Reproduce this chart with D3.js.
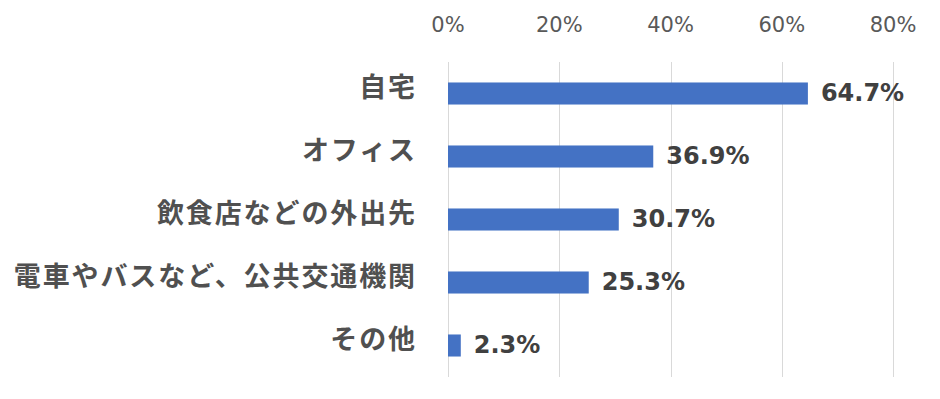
<!DOCTYPE html>
<meta charset="utf-8">
<style>
    body { margin: 0; background: #fff; }
    .grid line { stroke: #d9d9d9; stroke-width: 1px; }
    .ticks text { font-family: "DejaVu Sans", sans-serif; font-size: 21px; fill: #595959; }
    .cats text { font-family: "Noto Sans CJK JP", sans-serif; font-weight: bold; font-size: 27px; fill: #505050; }
    .vals text { font-family: "DejaVu Sans", sans-serif; font-weight: bold; font-size: 24px; fill: #404040; }
</style>
<svg id="mainSVG" width="940" height="399"></svg>
<script src="https://d3js.org/d3.v7.min.js"></script>
<script>
    var categories = ["自宅", "オフィス", "飲食店などの外出先", "電車やバスなど、公共交通機関", "その他"];
    var values = [64.7, 36.9, 30.7, 25.3, 2.3];
    var tickValues = [0, 20, 40, 60, 80];

    var svg = d3.select("svg");

    var x = d3.scaleLinear().domain([0, 80]).range([448, 893]);
    var y = d3.scaleBand()
        .domain(categories)
        .range([62, 377])
        .paddingInner(0.65)
        .paddingOuter(0.325);

    // vertical gridlines
    svg.append("g")
        .attr("class", "grid")
        .selectAll("line")
        .data(tickValues)
        .enter().append("line")
        .attr("x1", function (d) { return Math.round(x(d)) + 0.5; })
        .attr("x2", function (d) { return Math.round(x(d)) + 0.5; })
        .attr("y1", 62)
        .attr("y2", 377);

    // tick labels on top
    svg.append("g")
        .attr("class", "ticks")
        .selectAll("text")
        .data(tickValues)
        .enter().append("text")
        .attr("x", function (d) { return x(d); })
        .attr("y", 32)
        .attr("text-anchor", "middle")
        .text(function (d) { return d + "%"; });

    svg.append("g")
        .selectAll("rect")
        .data(values)
        .enter().append("rect")
        .attr("x", x(0))
        .attr("y", function (d, i) { return y(categories[i]); })
        .attr("width", function (d) { return x(d) - x(0); })
        .attr("height", y.bandwidth())
        .attr("fill", "#4472C4");

    // category labels sit a little above the bar centre
    svg.append("g")
        .attr("class", "cats")
        .selectAll("text")
        .data(categories)
        .enter().append("text")
        .attr("x", 417)
        .attr("y", function (d) { return y(d) + y.bandwidth() / 2 - 6; })
        .attr("dy", "0.36em")
        .attr("text-anchor", "end")
        .style("letter-spacing", "1.9px")
        .text(function (d) { return d; });

    svg.append("g")
        .attr("class", "vals")
        .selectAll("text")
        .data(values)
        .enter().append("text")
        .attr("x", function (d) { return x(d) + 13; })
        .attr("y", function (d, i) { return y(categories[i]) + y.bandwidth() / 2 - 1.5; })
        .attr("dy", "0.36em")
        .text(function (d) { return d.toFixed(1) + "%"; });
</script>
